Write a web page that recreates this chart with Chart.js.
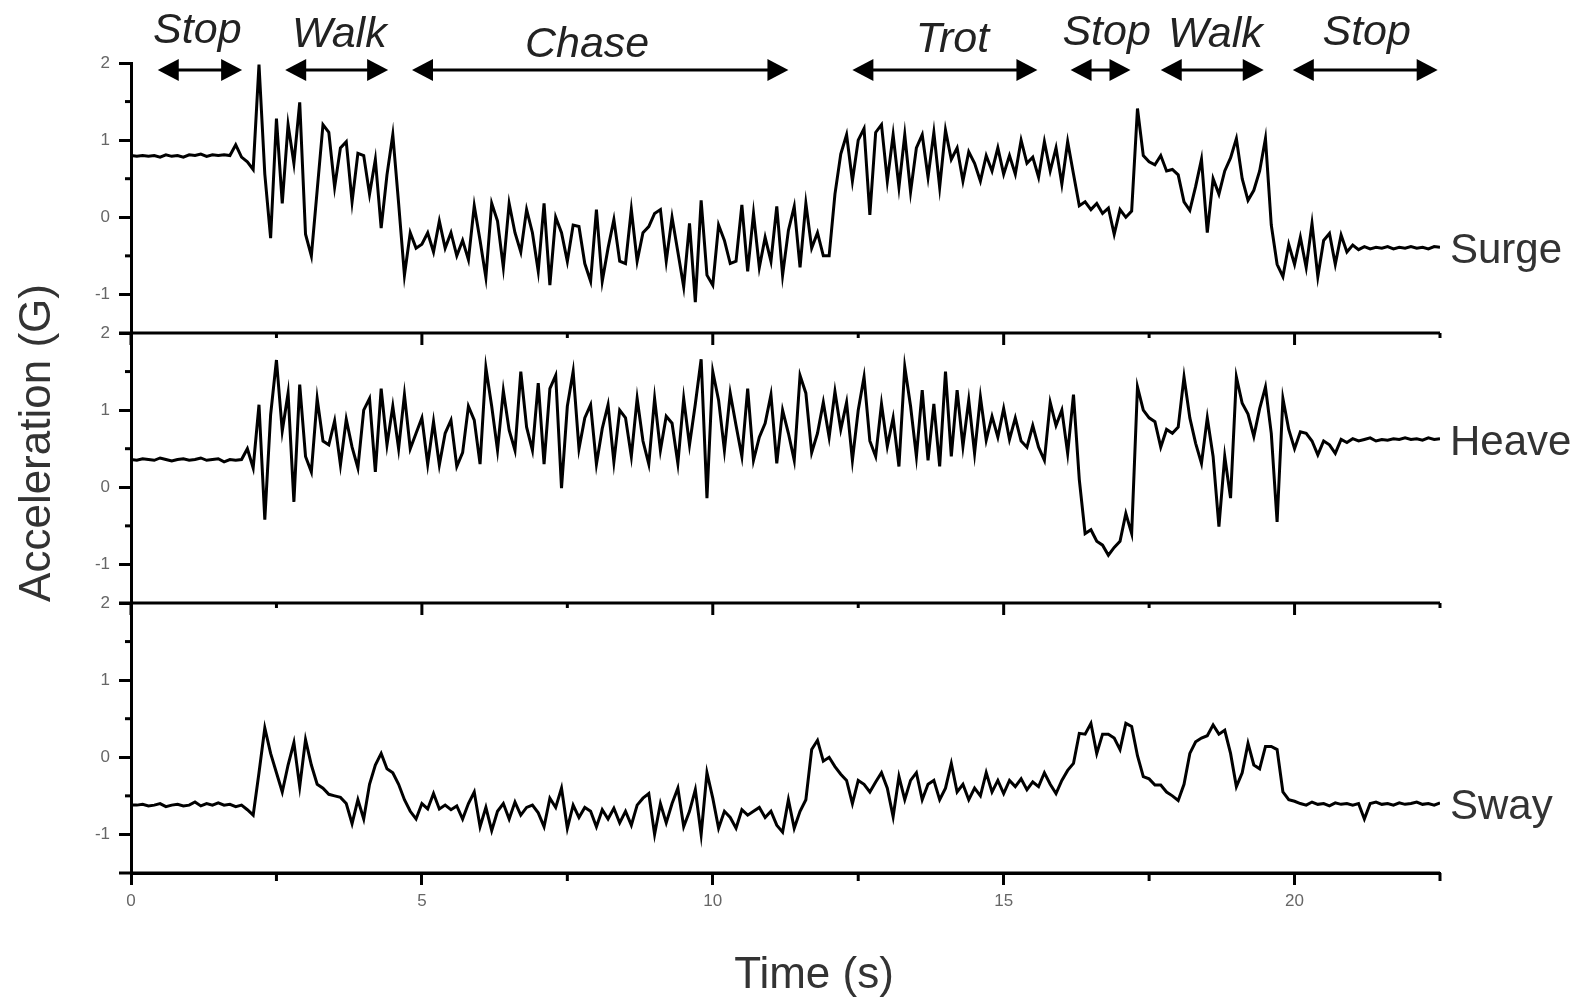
<!DOCTYPE html>
<html>
<head>
<meta charset="utf-8">
<title>Acceleration (G)</title>
<script src="https://cdn.jsdelivr.net/npm/chart.js@4"></script>
<style>
  html, body { margin: 0; padding: 0; background: #fff; }
</style>
</head>
<body>
<canvas id="myChart" width="1586" height="998"></canvas>
<script>
var dt = 0.1;

var surge = [
  0.80, 0.79, 0.80, 0.79, 0.80, 0.78, 0.81, 0.79, 0.80, 0.78,
  0.81, 0.80, 0.82, 0.79, 0.81, 0.80, 0.81, 0.80, 0.94, 0.78,
  0.72, 0.62, 1.98, 0.56, -0.27, 1.28, 0.18, 1.2, 0.7, 1.49,
  -0.22, -0.5, 0.35, 1.2, 1.1, 0.39, 0.9, 0.98, 0.2, 0.83,
  0.8, 0.3, 0.75, -0.14, 0.55, 1.07, 0.18, -0.75, -0.2, -0.4,
  -0.35, -0.2, -0.45, -0.05, -0.4, -0.2, -0.5, -0.3, -0.55, 0.15,
  -0.3, -0.78, 0.18, -0.05, -0.65, 0.18, -0.2, -0.45, 0.1, -0.2,
  -0.7, 0.18, -0.88, 0.0, -0.2, -0.57, -0.1, -0.12, -0.6, -0.83,
  0.1, -0.83, -0.4, -0.03, -0.57, -0.6, 0.1, -0.57, -0.2, -0.12,
  0.05, 0.1, -0.57, 0.0, -0.45, -0.9, -0.08, -1.1, 0.22, -0.75,
  -0.88, -0.1, -0.3, -0.6, -0.57, 0.16, -0.7, 0.05, -0.65, -0.26,
  -0.57, 0.14, -0.75, -0.17, 0.14, -0.65, 0.18, -0.4, -0.2, -0.5,
  -0.5, 0.3, 0.82, 1.07, 0.47, 1.0, 1.15, 0.03, 1.1, 1.2,
  0.47, 1.07, 0.39, 1.07, 0.33, 0.9, 1.07, 0.52, 1.1, 0.39,
  1.13, 0.75, 0.9, 0.47, 0.85, 0.7, 0.47, 0.8, 0.6, 0.9,
  0.56, 0.8, 0.56, 1.0, 0.7, 0.78, 0.52, 0.98, 0.6, 0.9,
  0.43, 0.98, 0.56, 0.15, 0.2, 0.1, 0.18, 0.05, 0.12, -0.22,
  0.1, 0.0, 0.08, 1.41, 0.8, 0.72, 0.68, 0.8, 0.6, 0.62,
  0.55, 0.2, 0.09, 0.4, 0.75, -0.2, 0.5, 0.3, 0.6, 0.77,
  1.02, 0.5, 0.22, 0.35, 0.6, 1.02, -0.1, -0.61, -0.77, -0.35,
  -0.61, -0.26, -0.65, -0.08, -0.77, -0.3, -0.21, -0.61, -0.23, -0.45,
  -0.36, -0.42, -0.38, -0.41, -0.39, -0.40, -0.38, -0.41, -0.39, -0.40,
  -0.38, -0.40, -0.39, -0.41, -0.38, -0.39
];

var heave = [
  0.36, 0.35, 0.37, 0.36, 0.35, 0.38, 0.36, 0.34, 0.36, 0.37,
  0.35, 0.36, 0.38, 0.35, 0.36, 0.37, 0.33, 0.36, 0.35, 0.36,
  0.5, 0.25, 1.07, -0.42, 0.94, 1.65, 0.73, 1.22, -0.19, 1.33,
  0.4, 0.2, 1.15, 0.6, 0.55, 0.86, 0.29, 0.88, 0.52, 0.25,
  1.0, 1.15, 0.2, 1.28, 0.55, 1.05, 0.5, 1.2, 0.5, 0.7,
  0.9, 0.3, 0.85, 0.29, 0.7, 0.87, 0.27, 0.45, 1.05, 0.87,
  0.3, 1.55, 1.05, 0.48, 1.25, 0.74, 0.48, 1.5, 0.78, 0.48,
  1.35, 0.3, 1.28, 1.45, -0.01, 1.05, 1.5, 0.5, 0.9, 1.07,
  0.3, 0.76, 1.07, 0.33, 1.0, 0.9, 0.4, 1.15, 0.6, 0.3,
  1.15, 0.48, 0.92, 0.83, 0.31, 1.15, 0.55, 1.08, 1.66, -0.14,
  1.5, 1.13, 0.48, 1.22, 0.8, 0.4, 1.28, 0.35, 0.65, 0.83,
  1.2, 0.31, 1.0, 0.7, 0.35, 1.45, 1.22, 0.45, 0.7, 1.1,
  0.65, 1.24, 0.75, 1.1, 0.35, 1.0, 1.43, 0.6, 0.4, 1.08,
  0.53, 0.9, 0.27, 1.56, 1.05, 0.4, 1.26, 0.35, 1.08, 0.27,
  1.5, 0.4, 1.26, 0.53, 1.13, 0.44, 1.17, 0.61, 0.92, 0.65,
  1.02, 0.62, 0.9, 0.6, 0.52, 0.8, 0.52, 0.35, 1.1, 0.8,
  1.0, 0.44, 1.2, 0.1, -0.6, -0.55, -0.7, -0.75, -0.88, -0.78,
  -0.7, -0.34, -0.6, 1.3, 1.0, 0.9, 0.85, 0.52, 0.75, 0.7,
  0.78, 1.43, 0.9, 0.57, 0.31, 0.9, 0.4, -0.51, 0.4, -0.14,
  1.43, 1.09, 0.95, 0.66, 1.02, 1.3, 0.7, -0.45, 1.15, 0.75,
  0.5, 0.72, 0.7, 0.6, 0.42, 0.6, 0.55, 0.44, 0.62, 0.58,
  0.63, 0.6, 0.62, 0.64, 0.6, 0.62, 0.61, 0.63, 0.62, 0.64,
  0.62, 0.63, 0.61, 0.64, 0.62, 0.63
];

var sway = [
  -0.62, -0.62, -0.61, -0.63, -0.62, -0.60, -0.64, -0.62, -0.61, -0.63,
  -0.62, -0.58, -0.63, -0.60, -0.62, -0.59, -0.62, -0.61, -0.64, -0.62,
  -0.68, -0.75, -0.2, 0.38, 0.05, -0.2, -0.45, -0.1, 0.19, -0.38,
  0.23, -0.1, -0.35, -0.4, -0.48, -0.5, -0.52, -0.6, -0.86, -0.55,
  -0.8, -0.35, -0.1, 0.05, -0.15, -0.2, -0.35, -0.55, -0.7, -0.8,
  -0.6, -0.67, -0.47, -0.67, -0.62, -0.68, -0.63, -0.8, -0.6, -0.45,
  -0.9, -0.65, -0.95, -0.7, -0.6, -0.8, -0.58, -0.75, -0.65, -0.62,
  -0.72, -0.9, -0.53, -0.65, -0.4, -0.92, -0.62, -0.78, -0.65, -0.7,
  -0.9, -0.68, -0.8, -0.66, -0.85, -0.7, -0.88, -0.62, -0.53, -0.47,
  -1.0, -0.6, -0.85, -0.6, -0.4, -0.9, -0.7, -0.42, -1.0, -0.2,
  -0.53, -0.92, -0.7, -0.78, -0.92, -0.68, -0.75, -0.7, -0.65, -0.78,
  -0.7, -0.88, -0.97, -0.55, -0.92, -0.7, -0.55, 0.1, 0.22, -0.05,
  0.0, -0.12, -0.22, -0.3, -0.6, -0.3, -0.35, -0.45, -0.32, -0.2,
  -0.4, -0.77, -0.25, -0.55, -0.3, -0.2, -0.55, -0.35, -0.3, -0.55,
  -0.4, -0.08, -0.45, -0.35, -0.55, -0.4, -0.5, -0.2, -0.45, -0.3,
  -0.47, -0.3, -0.38, -0.28, -0.42, -0.32, -0.38, -0.2, -0.35, -0.47,
  -0.3, -0.17, -0.08, 0.31, 0.3, 0.44, 0.05, 0.3, 0.3, 0.25,
  0.1, 0.44, 0.4, 0.02, -0.25, -0.28, -0.36, -0.36, -0.45, -0.5,
  -0.56, -0.35, 0.05, 0.2, 0.25, 0.28, 0.42, 0.3, 0.35, 0.05,
  -0.38, -0.2, 0.18, -0.1, -0.15, 0.14, 0.14, 0.1, -0.45, -0.55,
  -0.57, -0.6, -0.62, -0.58, -0.61, -0.6, -0.63, -0.59, -0.61, -0.6,
  -0.62, -0.6, -0.8, -0.6, -0.58, -0.61, -0.6, -0.62, -0.59, -0.61,
  -0.6, -0.58, -0.61, -0.6, -0.62, -0.59
];

var channels = ['Surge', 'Heave', 'Sway'];
var xTicks = [0, 5, 10, 15, 20];
var yTicks = [-1, 0, 1, 2];

// behaviour bands along the top (seconds)
var phases = ['Stop', 'Walk', 'Chase', 'Trot', 'Stop', 'Walk', 'Stop'];
var phaseStart = [0.46, 2.65, 4.83, 12.4, 16.15, 17.7, 19.97];
var phaseEnd = [1.91, 4.42, 11.3, 15.58, 17.18, 19.47, 22.46];
var phaseLabelAt = [1.14, 3.58, 7.84, 14.12, 16.77, 18.64, 21.24];

var time = surge.map((v, i) => Math.round(i * dt * 10) / 10);

function points(vals) {
  return vals.map((v, i) => ({ x: time[i], y: v }));
}

var labelBase = [43, 47, 57, 52, 45, 47, 45];
var FONT = '"Liberation Sans", Arial, sans-serif';

function isMajor(v) {
  return yTicks.some(t => Math.abs(t - v) < 1e-6);
}

function yAxis(weight) {
  return {
    type: 'linear',
    position: 'left',
    stack: 'acc',
    stackWeight: 1,
    weight: weight,
    min: -1.5,
    max: 2,
    afterFit: s => { s.width = 50; },
    ticks: {
      stepSize: 0.5,
      autoSkip: false,
      padding: 9,
      color: '#666',
      font: { family: FONT, size: 17 },
      callback: v => isMajor(v) ? String(Math.round(v)) : ''
    },
    grid: {
      drawOnChartArea: false,
      tickLength: 12,
      tickWidth: 3,
      tickColor: c => isMajor(c.tick.value) ? '#000' : 'rgba(0,0,0,0)'
    },
    border: { display: true, color: '#000', width: 3 }
  };
}

function line(c, x0, y0, x1, y1) {
  c.beginPath(); c.moveTo(x0, y0); c.lineTo(x1, y1); c.stroke();
}

function head(c, xt, y, dir) {
  c.beginPath();
  c.moveTo(xt, y);
  c.lineTo(xt + dir * 21, y - 11);
  c.lineTo(xt + dir * 21, y + 11);
  c.closePath();
  c.fill();
}

var extras = {
  id: 'extras',
  afterDraw(chart) {
    var c = chart.ctx, area = chart.chartArea, xs = chart.scales.x;
    var axes = [chart.scales.ySurge, chart.scales.yHeave, chart.scales.ySway];
    var data = [surge, heave, sway];
    c.save();
    c.strokeStyle = '#000';
    c.fillStyle = '#000';
    c.lineWidth = 3;
    c.lineCap = 'butt';

    axes.forEach((s, k) => {
      var yb = s.getPixelForValue(-1.5);
      line(c, area.left - 12, yb, area.right, yb);
      [-0.5, 0.5, 1.5].forEach(v => {
        var yy = s.getPixelForValue(v);
        line(c, area.left - 6, yy, area.left, yy);
      });
      for (var t = 0; t <= 22.5; t += 2.5) {
        var px = xs.getPixelForValue(t);
        if (k < 2) {
          line(c, px, yb, px, yb + (t % 5 === 0 ? 12 : 5));
        } else if (t % 5 !== 0) {
          line(c, px, yb, px, yb + 8);
        }
      }
    });

    // behaviour arrows and names
    var ay = 70;
    c.font = 'italic 43px ' + FONT;
    c.textAlign = 'center';
    c.textBaseline = 'alphabetic';
    phases.forEach((name, k) => {
      var x0 = xs.getPixelForValue(phaseStart[k]);
      var x1 = xs.getPixelForValue(phaseEnd[k]);
      c.fillStyle = '#000';
      line(c, x0 + 12, ay, x1 - 12, ay);
      head(c, x0, ay, 1);
      head(c, x1, ay, -1);
      c.fillStyle = '#222';
      c.fillText(name, xs.getPixelForValue(phaseLabelAt[k]), labelBase[k]);
    });

    // channel names at the right end of each trace
    c.font = '42px ' + FONT;
    c.textAlign = 'left';
    c.fillStyle = '#333';
    axes.forEach((s, k) => {
      var last = data[k][data[k].length - 1];
      c.fillText(channels[k], area.right + 10, s.getPixelForValue(last) + 16);
    });

    // axis titles
    c.font = '44px ' + FONT;
    c.textAlign = 'center';
    c.fillText('Time (s)', 814, 988);
    c.translate(50, 443);
    c.rotate(-Math.PI / 2);
    c.fillText('Acceleration (G)', 0, 0);
    c.restore();
  }
};

var lineStyle = { borderColor: '#000', borderWidth: 3, pointRadius: 0, tension: 0, fill: false };

var accChart = new Chart(document.getElementById('myChart'), {
  type: 'line',
  data: {
    datasets: [
      Object.assign({ label: channels[0], data: points(surge), yAxisID: 'ySurge' }, lineStyle),
      Object.assign({ label: channels[1], data: points(heave), yAxisID: 'yHeave' }, lineStyle),
      Object.assign({ label: channels[2], data: points(sway), yAxisID: 'ySway' }, lineStyle)
    ]
  },
  options: {
    responsive: false,
    animation: false,
    devicePixelRatio: 1,
    layout: { padding: { left: 81, right: 146, top: 63, bottom: 0 } },
    plugins: { legend: { display: false }, tooltip: { enabled: false } },
    scales: {
      x: {
        type: 'linear',
        min: 0,
        max: 22.5,
        afterFit: s => { s.height = 125; },
        ticks: {
          stepSize: 2.5,
          autoSkip: false,
          maxRotation: 0,
          padding: 6,
          color: '#666',
          font: { family: FONT, size: 17 },
          callback: v => xTicks.includes(v) ? String(v) : ''
        },
        grid: {
          drawOnChartArea: false,
          tickLength: 12,
          tickWidth: 3,
          tickColor: c => xTicks.includes(c.tick.value) ? '#000' : 'rgba(0,0,0,0)'
        },
        border: { display: true, color: '#000', width: 3 }
      },
      ySurge: yAxis(3),
      yHeave: yAxis(2),
      ySway: yAxis(1)
    }
  },
  plugins: [extras]
});
</script>
</body>
</html>
